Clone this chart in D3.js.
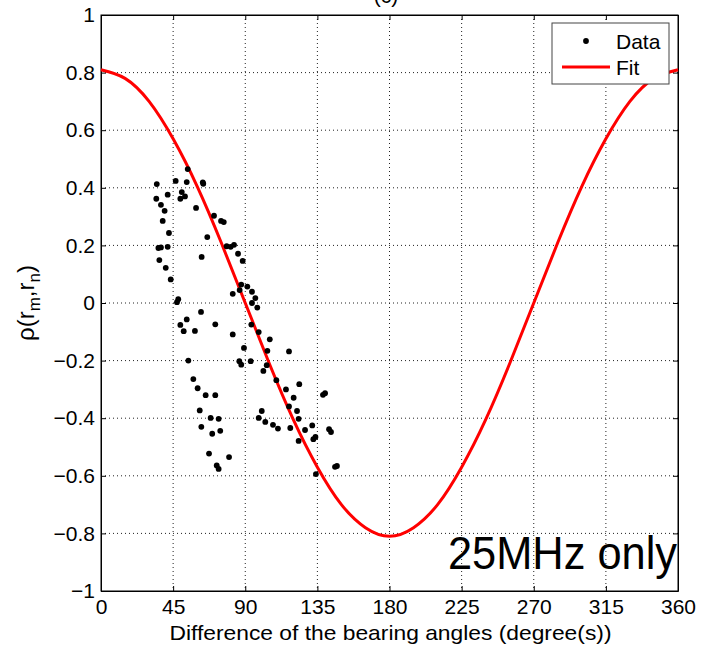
<!DOCTYPE html>
<html>
<head>
<meta charset="utf-8">
<script src="https://cdn.jsdelivr.net/npm/d3@7"></script>
<style>
  body { margin: 0; background: #fff; }
  svg text { font-family: "Liberation Sans", Arial, sans-serif; fill: #000; }
</style>
</head>
<body>
<div id="chart"></div>
<script>
// measured samples (angle difference in degrees, correlation)
var dataAngle = [54.1, 46.6, 53.5, 63.5, 63.8, 34.8, 41.6, 50.4, 49.5, 52.4,
  34.5, 37.4, 39.7, 59.3, 70.5, 74.9, 76.6, 38.5, 42.4, 66.3,
  35.8, 37.4, 41.6, 78.4, 83.0, 80.9, 62.8, 36.4, 40.4, 43.5,
  48.2, 47.4, 62.4, 53.5, 49.5, 51.6, 58.6, 71.3, 54.5, 85.5,
  88.4, 87.5, 91.3, 82.2, 86.5, 94.2, 96.3, 94.2, 97.5, 93.8,
  98.4, 82.2, 105.3, 89.2, 103.8, 117.3, 86.3, 87.5, 93.4, 103.4,
  57.6, 60.3, 65.3, 71.3, 61.6, 68.4, 73.4, 62.6, 69.4, 74.4,
  67.4, 79.9, 72.2, 73.4, 101.3, 109.4, 115.4, 123.7, 120.2, 117.3,
  122.3, 123.3, 100.3, 98.4, 102.5, 107.3, 110.4, 118.1, 127.3, 131.8,
  123.3, 132.5, 134.1, 138.5, 139.8, 142.3, 143.5, 146.0, 147.2, 133.8];
var dataRho = [0.465, 0.424, 0.420, 0.419, 0.414, 0.413, 0.376, 0.385, 0.362, 0.370,
  0.362, 0.341, 0.320, 0.330, 0.303, 0.285, 0.281, 0.285, 0.243, 0.229,
  0.191, 0.193, 0.195, 0.197, 0.202, 0.195, 0.160, 0.149, 0.122, 0.082,
  0.013, 0.003, -0.031, -0.057, -0.076, -0.098, -0.097, -0.074, -0.200, 0.171,
  0.146, 0.064, 0.057, 0.032, 0.045, 0.039, 0.017, 0.000, -0.016, -0.075,
  -0.101, -0.109, -0.126, -0.156, -0.166, -0.168, -0.202, -0.214, -0.202, -0.216,
  -0.264, -0.296, -0.320, -0.320, -0.373, -0.399, -0.402, -0.430, -0.454, -0.444,
  -0.523, -0.535, -0.564, -0.576, -0.236, -0.268, -0.300, -0.282, -0.329, -0.359,
  -0.375, -0.402, -0.375, -0.399, -0.413, -0.423, -0.436, -0.434, -0.441, -0.425,
  -0.479, -0.473, -0.594, -0.319, -0.313, -0.438, -0.448, -0.569, -0.566, -0.465];

// fitted curve every 15 degrees
var fitAngle = [0, 15, 30, 45, 60, 75, 90, 105, 120, 135, 150, 165, 180,
  195, 210, 225, 240, 255, 270, 285, 300, 315, 330, 345, 360];
var fitRho = [0.81, 0.78, 0.70, 0.57, 0.405, 0.21, 0, -0.21, -0.405, -0.57, -0.70, -0.78, -0.81,
  -0.78, -0.70, -0.57, -0.405, -0.21, 0, 0.21, 0.405, 0.57, 0.70, 0.78, 0.81];

var xTicks = [0, 45, 90, 135, 180, 225, 270, 315, 360];
var yTicks = [-1, -0.8, -0.6, -0.4, -0.2, 0, 0.2, 0.4, 0.6, 0.8, 1];

var W = 701, H = 646;
var m = {left: 101, right: 23, top: 15, bottom: 55};
var iw = W - m.left - m.right, ih = H - m.top - m.bottom;

var svg = d3.select('#chart').append('svg').attr('width', W).attr('height', H);
var g = svg.append('g').attr('transform', 'translate(' + m.left + ',' + m.top + ')');

var x = d3.scaleLinear().domain([0, 360]).range([0, iw]);
var y = d3.scaleLinear().domain([-1, 1]).range([ih, 0]);

// title, mostly cut off at the top (as in the source figure)
svg.append('text').attr('x', 386).attr('y', 3).attr('text-anchor', 'middle')
   .style('font-size', '21px').text('(c)');

// dotted grid
g.append('g').selectAll('line').data(xTicks.slice(1, -1)).enter().append('line')
   .attr('x1', x).attr('x2', x).attr('y1', 0).attr('y2', ih)
   .attr('stroke', '#222').attr('stroke-width', 1).attr('stroke-dasharray', '1,3');
g.append('g').selectAll('line').data(yTicks.slice(1, -1)).enter().append('line')
   .attr('y1', y).attr('y2', y).attr('x1', 0).attr('x2', iw)
   .attr('stroke', '#222').attr('stroke-width', 1).attr('stroke-dasharray', '1,3');

// axes, ticks pointing inwards like matlab
g.append('g').attr('transform', 'translate(0,' + ih + ')')
   .call(d3.axisBottom(x).tickValues(xTicks).tickSizeInner(-5).tickSizeOuter(0).tickPadding(8));
g.append('g')
   .call(d3.axisLeft(y).tickValues(yTicks).tickSizeInner(-5).tickSizeOuter(0).tickPadding(6)
     .tickFormat(function(d){ return d3.format('.1~f')(d).replace('-', '\u2212'); }));
g.append('g').call(d3.axisTop(x).tickValues(xTicks).tickSizeInner(-5).tickSizeOuter(0).tickFormat(''));
g.append('g').attr('transform', 'translate(' + iw + ',0)')
   .call(d3.axisRight(y).tickValues(yTicks).tickSizeInner(-5).tickSizeOuter(0).tickFormat(''));
g.selectAll('.domain').attr('stroke', '#000');
g.selectAll('.tick line').attr('stroke', '#000');
g.selectAll('.tick text').style('font-size', '21px').attr('font-family', '"Liberation Sans", Arial, sans-serif');
g.append('rect').attr('width', iw).attr('height', ih).attr('fill', 'none').attr('stroke', '#000');

// fit
var line = d3.line().x(function(d){ return x(d[0]); }).y(function(d){ return y(d[1]); })
   .curve(d3.curveNatural);
g.append('path').datum(d3.zip(fitAngle, fitRho)).attr('d', line)
   .attr('fill', 'none').attr('stroke', '#f00').attr('stroke-width', 3);

// data
g.append('g').selectAll('circle').data(d3.zip(dataAngle, dataRho)).enter().append('circle')
   .attr('cx', function(d){ return x(d[0]); }).attr('cy', function(d){ return y(d[1]); })
   .attr('r', 2.9).attr('fill', '#000');

// legend
var lg = svg.append('g').attr('transform', 'translate(552,23)');
lg.append('rect').attr('width', 117).attr('height', 61).attr('fill', '#fff').attr('stroke', '#444');
lg.append('circle').attr('cx', 34).attr('cy', 18).attr('r', 2.9).attr('fill', '#000');
lg.append('line').attr('x1', 10).attr('x2', 58).attr('y1', 44).attr('y2', 44)
   .attr('stroke', '#f00').attr('stroke-width', 3);
lg.append('text').attr('x', 64).attr('y', 26).style('font-size', '21px').text('Data');
lg.append('text').attr('x', 64).attr('y', 52).style('font-size', '21px').text('Fit');

// labels
svg.append('text').attr('x', m.left + iw / 2 + 1).attr('y', 640).attr('text-anchor', 'middle')
   .attr('textLength', 442).attr('lengthAdjust', 'spacingAndGlyphs')
   .style('font-size', '21px').text('Difference of the bearing angles (degree(s))');
var yl = svg.append('text').attr('transform', 'translate(34,' + (m.top + ih / 2) + ') rotate(-90)')
   .attr('text-anchor', 'middle').style('font-size', '24px');
yl.append('tspan').text('\u03c1(r');
yl.append('tspan').attr('dy', 6).style('font-size', '17px').text('m');
yl.append('tspan').attr('dy', -6).text(',r');
yl.append('tspan').attr('dy', 6).style('font-size', '17px').text('n');
yl.append('tspan').attr('dy', -6).text(')');

svg.append('text').attr('x', 677).attr('y', 569).attr('text-anchor', 'end')
   .attr('textLength', 229).attr('lengthAdjust', 'spacingAndGlyphs')
   .style('font-size', '46px').attr('font-family', 'Lato, "Open Sans", sans-serif').text('25MHz only');
</script>
</body>
</html>
